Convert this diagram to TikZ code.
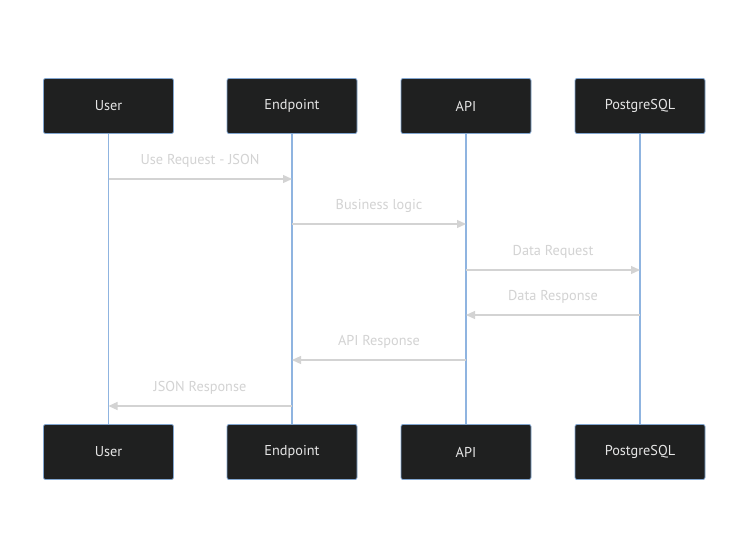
\documentclass[tikz,border=0pt]{standalone}
\usepackage{fontspec}
\setmainfont{PT Sans}
\usetikzlibrary{arrows.meta}
\definecolor{boxfill}{HTML}{1F2020}
\definecolor{boxline}{HTML}{81A5CF}
\definecolor{lifeline}{HTML}{8FB4E0}
\definecolor{msg}{HTML}{D3D3D3}
\tikzset{
  actor/.style={draw=boxline, line width=0.8pt, fill=boxfill, rounded corners=2pt,
    minimum width=130pt, minimum height=55pt, inner sep=0pt, text=white!90!black,
    font=\fontsize{14.3}{16}\selectfont},
  life/.style={draw=lifeline, line width=1.1pt},
  msgline/.style={draw=msg, line width=1.2pt, -{Triangle[length=9pt,width=8pt]}},
  msglabel/.style={text=msg, font=\fontsize{14.3}{16}\selectfont, inner sep=0pt},
}
\begin{document}
\begin{tikzpicture}[x=1pt,y=-1pt]
\useasboundingbox[fill=white] (0,0) rectangle (749,559);
% top actors
\node[actor] (u1) at (108.5,106) {User};
\node[actor] (e1) at (292,106) {Endpoint};
\node[actor] (a1) at (466,106) {API};
\node[actor] (p1) at (640,106) {PostgreSQL};
% bottom actors
\node[actor] (u2) at (108.5,452) {User};
\node[actor] (e2) at (292,452) {Endpoint};
\node[actor] (a2) at (466,452) {API};
\node[actor] (p2) at (640,452) {PostgreSQL};
% lifelines
\draw[life] (u1.south) -- (u2.north);
\draw[life] (e1.south) -- (e2.north);
\draw[life] (a1.south) -- (a2.north);
\draw[life] (p1.south) -- (p2.north);
% message anchor points
\coordinate (m1s) at (u1.south |- 0,179);
\coordinate (m1e) at (e1.south |- 0,179);
\coordinate (m2s) at (e1.south |- 0,224);
\coordinate (m2e) at (a1.south |- 0,224);
\coordinate (m3s) at (a1.south |- 0,270);
\coordinate (m3e) at (p1.south |- 0,270);
\coordinate (m4s) at (p1.south |- 0,315);
\coordinate (m4e) at (a1.south |- 0,315);
\coordinate (m5s) at (a1.south |- 0,360);
\coordinate (m5e) at (e1.south |- 0,360);
\coordinate (m6s) at (e1.south |- 0,406);
\coordinate (m6e) at (u1.south |- 0,406);
\draw[msgline] (m1s) -- (m1e);
\draw[msgline] (m2s) -- (m2e);
\draw[msgline] (m3s) -- (m3e);
\draw[msgline] (m4s) -- (m4e);
\draw[msgline] (m5s) -- (m5e);
\draw[msgline] (m6s) -- (m6e);
\node[msglabel] (l1) at (200,161) {Use Request - JSON};
\node[msglabel] (l2) at (379,206) {Business logic};
\node[msglabel] (l3) at (553,252) {Data Request};
\node[msglabel] (l4) at (553,297) {Data Response};
\node[msglabel] (l5) at (379,342) {API Response};
\node[msglabel] (l6) at (200,388) {JSON Response};
\end{tikzpicture}
\end{document}
